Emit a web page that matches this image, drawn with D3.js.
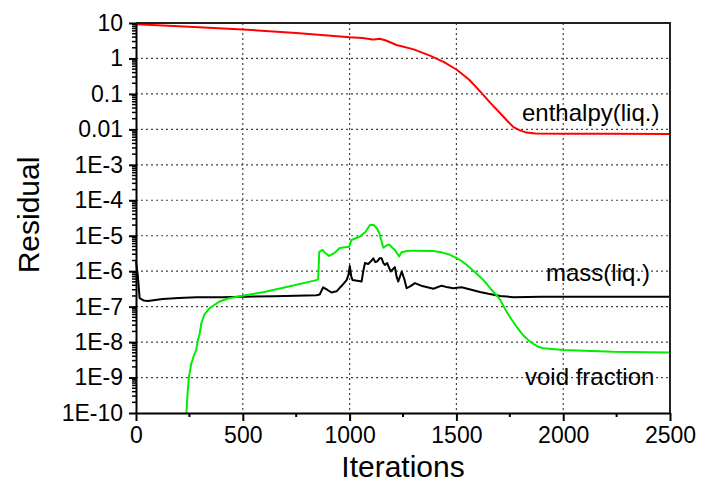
<!DOCTYPE html>
<html>
<head>
  <meta charset="utf-8" />
  <title>Residual history</title>
  <script src="https://d3js.org/d3.v7.min.js"></script>
  <style>
    body { margin: 0; background: #fff; }
    text { font-family: 'Liberation Sans', Arial, sans-serif; fill: #000; }
  </style>
</head>
<body>
  <svg id="chart" width="701" height="501"></svg>
  <script>
    // axis ticks
    var xTicks = [0, 500, 1000, 1500, 2000, 2500];
    var yTicks = [10, 1, 0.1, 0.01, 1e-3, 1e-4, 1e-5, 1e-6, 1e-7, 1e-8, 1e-9, 1e-10];
    var yTickLabels = ["10", "1", "0.1", "0.01", "1E-3", "1E-4", "1E-5", "1E-6", "1E-7", "1E-8", "1E-9", "1E-10"];

    // enthalpy(liq.)
    var enthalpyIter = [0, 250, 500, 750, 1000, 1060, 1100, 1112, 1142, 1170, 1220, 1300, 1376, 1440, 1502, 1560, 1610, 1660, 1704, 1740, 1767, 1800, 1829, 1870, 2000, 2200, 2500];
    var enthalpyRes  = [9.2, 7.8, 6.6, 5.2, 3.95, 3.8, 3.5, 3.4, 3.6, 3.2, 2.4, 1.8, 1.2, 0.8, 0.48, 0.25, 0.12, 0.055, 0.029, 0.017, 0.0116, 0.0092, 0.0081, 0.0076, 0.0075, 0.0075, 0.0074];

    // mass(liq.)
    var massIter = [0, 8, 17, 35, 56, 90, 125, 200, 283, 400, 500, 650, 845, 860, 876, 895, 915, 939, 965, 986,
                    995, 1001, 1008, 1014, 1056, 1064, 1072, 1087, 1100, 1111, 1120, 1130, 1140, 1150, 1158, 1165, 1176, 1192, 1200, 1212,
                    1220, 1228, 1244, 1256, 1267, 1285, 1306, 1340, 1392, 1431, 1460, 1485, 1524, 1570, 1610, 1650, 1704, 1767, 1900, 2100,
                    2300, 2500];
    var massRes  = [1.9e-6, 8e-7, 1.74e-7, 1.5e-7, 1.45e-7, 1.55e-7, 1.65e-7, 1.75e-7, 1.85e-7, 1.85e-7, 1.9e-7, 1.95e-7, 2.1e-7, 2.2e-7, 3.5e-7, 3.0e-7, 2.5e-7, 2.7e-7, 4.0e-7, 5.6e-7,
                    8e-7, 1.4e-6, 7e-7, 5.6e-7, 5.1e-7, 1.0e-6, 1.7e-6, 1.6e-6, 1.9e-6, 2.3e-6, 1.8e-6, 1.9e-6, 2.3e-6, 2.3e-6, 1.7e-6, 1.5e-6, 1.7e-6, 9.8e-7, 1.1e-6, 1.3e-6,
                    7e-7, 5.1e-7, 9.8e-7, 6e-7, 3.3e-7, 3.8e-7, 4.6e-7, 3.8e-7, 3.2e-7, 3.9e-7, 3.5e-7, 3.3e-7, 3.5e-7, 3.0e-7, 2.6e-7, 2.3e-7, 2.0e-7, 1.85e-7, 1.9e-7, 1.9e-7,
                    1.9e-7, 1.9e-7];

    // void fraction
    var voidIter = [236, 242, 248, 259, 270, 282, 290, 298, 306, 320, 345, 370, 392, 430, 486, 600, 700, 845, 853, 858,
                    873, 885, 904, 930, 954, 998, 1009, 1048, 1075, 1095, 1114, 1128, 1139, 1158, 1172, 1186, 1200, 1212, 1232, 1243,
                    1270, 1298, 1392, 1430, 1470, 1510, 1549, 1590, 1627, 1660, 1688, 1705, 1735, 1760, 1782, 1815, 1845, 1880, 1907, 2001,
                    2100, 2235, 2400, 2500];
    var voidRes  = [1e-10, 4e-10, 1.06e-9, 2.5e-9, 4e-9, 6e-9, 1.15e-8, 1.7e-8, 3.4e-8, 6e-8, 9.1e-8, 1.15e-7, 1.4e-7, 1.7e-7, 1.95e-7, 2.6e-7, 3.5e-7, 5.6e-7, 6.1e-7, 3.5e-6,
                    4.0e-6, 3.3e-6, 2.7e-6, 3.3e-6, 4.5e-6, 4.9e-6, 7.6e-6, 9.5e-6, 1.3e-5, 2.0e-5, 2.0e-5, 1.6e-5, 1.2e-5, 4.6e-6, 5.3e-6, 5.6e-6, 4.6e-6, 4.0e-6, 2.6e-6, 3.4e-6,
                    3.7e-6, 3.8e-6, 3.7e-6, 3.4e-6, 2.9e-6, 2.2e-6, 1.5e-6, 9e-7, 5.6e-7, 3.2e-7, 2.1e-7, 1.55e-7, 7.2e-8, 4.2e-8, 2.7e-8, 1.5e-8, 1.03e-8, 7.5e-9, 6.7e-9, 6.0e-9,
                    5.7e-9, 5.3e-9, 5.2e-9, 5.1e-9];

    var series = [
      { name: "enthalpy(liq.)", iter: enthalpyIter, res: enthalpyRes, color: "#ff0000", lx: 522, ly: 121 },
      { name: "mass(liq.)", iter: massIter, res: massRes, color: "#000000", lx: 546, ly: 281 },
      { name: "void fraction", iter: voidIter, res: voidRes, color: "#00ee00", lx: 525, ly: 385 }
    ];

    var plotL = 136, plotR = 670, plotT = 23, plotB = 413;
    var svg = d3.select("#chart");

    var x = d3.scaleLinear().domain([0, 2500]).range([plotL, plotR]);
    var y = d3.scaleLog().domain([1e-10, 10]).range([plotB, plotT]);

    // grid
    var grid = svg.append("g").attr("stroke", "#444").attr("stroke-width", 1.2).attr("stroke-dasharray", "2,3");
    grid.selectAll("line.gx")
      .data(xTicks.slice(1, -1))
      .enter().append("line")
      .attr("x1", function(d) { return x(d); })
      .attr("x2", function(d) { return x(d); })
      .attr("y1", plotT).attr("y2", plotB);
    grid.selectAll("line.gy")
      .data(yTicks.slice(1, -1))
      .enter().append("line")
      .attr("y1", function(d) { return y(d); })
      .attr("y2", function(d) { return y(d); })
      .attr("x1", plotL).attr("x2", plotR);

    // curves
    var line = d3.line()
      .x(function(d) { return x(d[0]); })
      .y(function(d) { return y(d[1]); });

    series.forEach(function(s) {
      var pts = s.iter.map(function(v, i) { return [v, s.res[i]]; });
      svg.append("path")
        .datum(pts)
        .attr("fill", "none")
        .attr("stroke", s.color)
        .attr("stroke-width", 2)
        .attr("stroke-linejoin", "round")
        .attr("d", line);
      svg.append("text")
        .attr("x", s.lx).attr("y", s.ly)
        .attr("font-size", 24)
        .text(s.name);
    });

    // frame top/right
    svg.append("path")
      .attr("d", "M" + plotL + "," + plotT + "H" + plotR + "V" + plotB)
      .attr("fill", "none").attr("stroke", "#222").attr("stroke-width", 2);

    // x axis
    var minorX = d3.range(250, 2500, 500);
    var xAxis = d3.axisBottom(x).tickValues(xTicks).tickSize(8).tickSizeOuter(0).tickPadding(6)
      .tickFormat(d3.format("d"));
    var gx = svg.append("g").attr("transform", "translate(0," + plotB + ")").call(xAxis);
    gx.selectAll("line.minor")
      .data(minorX)
      .enter().append("line")
      .attr("x1", function(d) { return x(d); })
      .attr("x2", function(d) { return x(d); })
      .attr("y1", 0).attr("y2", 4)
      .attr("stroke", "#000").attr("stroke-width", 2);

    // y axis
    var yAxis = d3.axisLeft(y).tickValues(yTicks).tickSize(7).tickSizeOuter(0).tickPadding(6)
      .tickFormat(function(d, i) { return yTickLabels[i]; });
    var gy = svg.append("g").attr("transform", "translate(" + plotL + ",0)").call(yAxis);
    var minorY = [];
    yTicks.slice(1).forEach(function(t) {
      for (var k = 2; k <= 9; k++) minorY.push(t * k);
    });
    gy.selectAll("line.minor")
      .data(minorY)
      .enter().append("line")
      .attr("y1", function(d) { return y(d); })
      .attr("y2", function(d) { return y(d); })
      .attr("x1", 0).attr("x2", -4)
      .attr("stroke", "#000").attr("stroke-width", 1.5);

    [gx, gy].forEach(function(g) {
      g.select(".domain").attr("stroke", "#000").attr("stroke-width", 2);
      g.selectAll(".tick line").attr("stroke", "#000").attr("stroke-width", 2);
      g.selectAll(".tick text").attr("font-size", 23)
        .attr("font-family", "'Liberation Sans', Arial, sans-serif").attr("fill", "#000");
    });

    // axis titles
    svg.append("text")
      .attr("x", (plotL + plotR) / 2).attr("y", 477)
      .attr("text-anchor", "middle").attr("font-size", 30)
      .text("Iterations");
    svg.append("text")
      .attr("transform", "translate(39,215) rotate(-90)")
      .attr("text-anchor", "middle").attr("font-size", 30)
      .text("Residual");
  </script>
</body>
</html>
